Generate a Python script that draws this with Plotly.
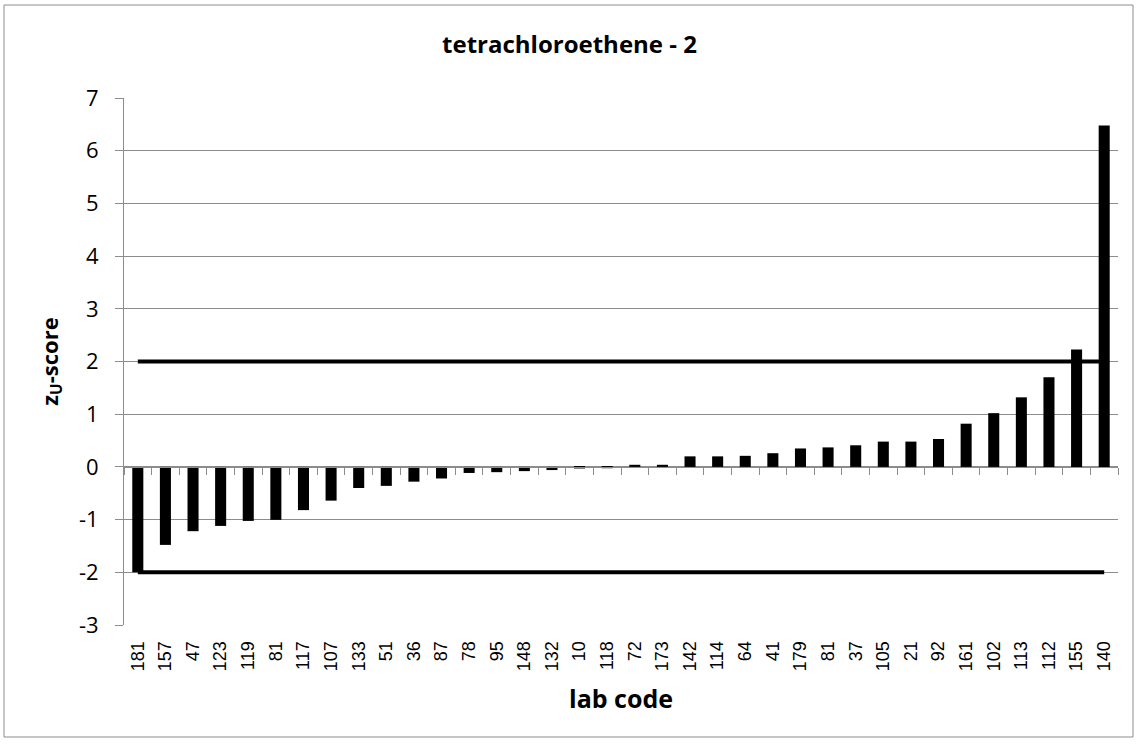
import plotly.graph_objects as go

lab_codes = ["181", "157", "47", "123", "119", "81", "117", "107", "133", "51", "36", "87",
             "78", "95", "148", "132", "10", "118", "72", "173", "142", "114", "64", "41",
             "179", "81", "37", "105", "21", "92", "161", "102", "113", "112", "155", "140"]
z_scores = [-2.0, -1.48, -1.22, -1.12, -1.025, -1.005, -0.82, -0.64, -0.40, -0.36, -0.28, -0.22,
            -0.115, -0.10, -0.08, -0.06, -0.03, -0.025, 0.04, 0.04, 0.20, 0.20, 0.21, 0.26,
            0.35, 0.37, 0.41, 0.48, 0.48, 0.53, 0.82, 1.02, 1.32, 1.70, 2.23, 6.48]
upper_limit = 2
lower_limit = -2
y_tick_values = [-3, -2, -1, 0, 1, 2, 3, 4, 5, 6, 7]
y_tick_labels = ["-3", "-2", "-1", "0", "1", "2", "3", "4", "5", "6", "7"]
y_min, y_max = -3, 7

n = len(lab_codes)
idx = list(range(n))
sans = "Open Sans, Lato, Liberation Sans, sans-serif"
arial = "Liberation Sans, Arial, sans-serif"
grey = "#8c8c8c"

fig = go.Figure()
fig.add_trace(go.Bar(x=idx, y=z_scores, marker=dict(color="black", line=dict(width=0)),
                     width=0.40, showlegend=False))
fig.add_trace(go.Scatter(x=[idx[0], idx[-1]], y=[upper_limit, upper_limit], mode="lines",
                         line=dict(color="black", width=4), showlegend=False))
fig.add_trace(go.Scatter(x=[idx[0], idx[-1]], y=[lower_limit, lower_limit], mode="lines",
                         line=dict(color="black", width=4), showlegend=False))
# invisible trace carrying the overlay axes (category axis at y = 0, labelled value axis)
fig.add_trace(go.Scatter(x=[idx[0]], y=[0], xaxis="x2", yaxis="y2", mode="markers",
                         marker=dict(opacity=0), showlegend=False, hoverinfo="skip"))

zero_pos = (0 - y_min) / (y_max - y_min)
boundaries = [i - 0.5 for i in range(n + 1)]
grid_vals = [v for v in y_tick_values if v != y_min]

L, R, T, B = 124, 21, 98, 119
W, H = 1139, 744
pw, ph = W - L - R, H - T - B

fig.update_layout(
    width=W, height=H,
    margin=dict(l=L, r=R, t=T, b=B, pad=0),
    paper_bgcolor="white", plot_bgcolor="white",
    font=dict(family=sans, color="black"),
    title=dict(text="<b>tetrachloroethene - 2</b>", x=0.5, xanchor="center",
               y=1 - 45 / H, yanchor="middle", font=dict(size=24, family=sans)),
    xaxis=dict(range=[-0.5, n - 0.5], tickmode="array", tickvals=idx, ticktext=lab_codes,
               tickangle=-90, tickfont=dict(size=18, family=arial), showgrid=False,
               zeroline=False, showline=False, ticks="outside", ticklen=8, tickcolor="white"),
    xaxis2=dict(range=[-0.5, n - 0.5], overlaying="x", anchor="free", position=zero_pos,
                side="bottom", showline=True, linecolor=grey, linewidth=1,
                tickmode="array", tickvals=boundaries, ticks="outside", ticklen=7,
                tickcolor=grey, showticklabels=False, showgrid=False, zeroline=False),
    yaxis=dict(range=[y_min, y_max], tickmode="array", tickvals=grid_vals, showgrid=True,
               gridcolor=grey, gridwidth=1, zeroline=False, showline=False,
               ticks="", showticklabels=False),
    yaxis2=dict(range=[y_min, y_max], overlaying="y", anchor="x", side="left",
                tickmode="array", tickvals=y_tick_values, ticktext=y_tick_labels,
                showgrid=False, zeroline=False, showline=True, linecolor=grey, linewidth=1,
                ticks="outside", ticklen=8, tickcolor=grey, tickfont=dict(size=22, family=sans),
                ticklabelstandoff=12,
                title=dict(text="<b>z<sub>U</sub>-score</b>", font=dict(size=22, family=sans),
                           standoff=14)),
    annotations=[dict(text="<b>lab code</b>", xref="paper", yref="paper", x=0.5,
                      y=(H - B - 698) / ph, xanchor="center", yanchor="middle",
                      showarrow=False, font=dict(size=25, family=sans))],
    shapes=[dict(type="rect", xref="paper", yref="paper",
                 x0=(4 - L) / pw, x1=(1133 - L) / pw,
                 y0=(H - B - 737) / ph, y1=(H - B - 5) / ph,
                 line=dict(color=grey, width=1), fillcolor="rgba(0,0,0,0)", layer="below")],
)

fig.write_html("out.html", config={"displayModeBar": False},
               post_script="document.body.style.margin='0px';")
